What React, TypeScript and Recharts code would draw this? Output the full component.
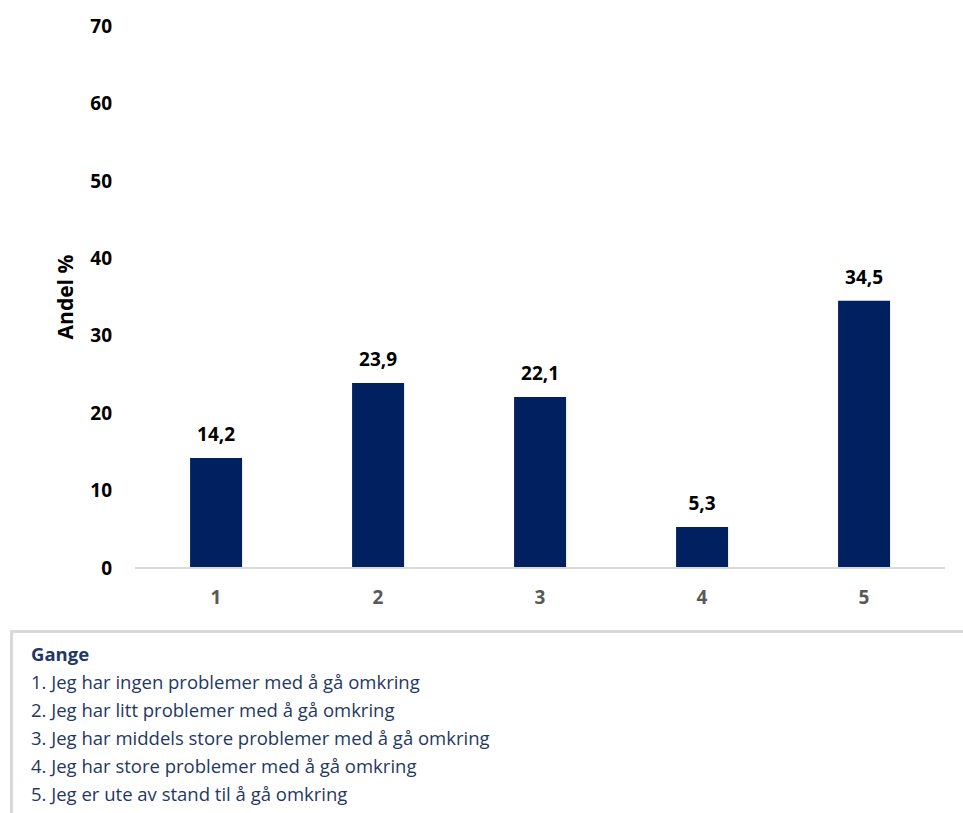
import { BarChart, Bar, XAxis, YAxis, CartesianGrid, LabelList } from "recharts";

// Andel % per svaralternativ (Gange)
const categories = ["1", "2", "3", "4", "5"];
const shares = [14.2, 23.9, 22.1, 5.3, 34.5];
const yTicks = [0, 10, 20, 30, 40, 50, 60, 70];
const legendTitle = "Gange";
const legendLines = [
    "1. Jeg har ingen problemer med å gå omkring",
    "2. Jeg har litt problemer med å gå omkring",
    "3. Jeg har middels store problemer med å gå omkring",
    "4. Jeg har store problemer med å gå omkring",
    "5. Jeg er ute av stand til å gå omkring",
];

const data = categories.map((c, i) => ({ cat: c, value: shares[i] }));

const font = "'Open Sans', 'Noto Sans', sans-serif";
const fmt = (v: number) => v.toFixed(1).replace(".", ",");

export default function App() {
    return (
        <div style={{ position: "absolute", left: 0, top: 0, width: 963, height: 813, background: "#fff", fontFamily: font }}>
            <BarChart width={963} height={620} data={data} margin={{ top: 26, right: 18, left: 0, bottom: 0 }} barCategoryGap="34%">
                <CartesianGrid vertical={false} horizontal={false} />
                <XAxis
                    dataKey="cat"
                    height={52}
                    tickLine={false}
                    tickSize={0}
                    tickMargin={23}
                    axisLine={{ stroke: "#d9d9d9", strokeWidth: 2 }}
                    tick={{ fill: "#595959", fontSize: 19, fontWeight: 700, fontFamily: font }}
                />
                <YAxis
                    width={135}
                    domain={[0, 70]}
                    ticks={yTicks}
                    interval={0}
                    axisLine={false}
                    tickLine={false}
                    tickSize={0}
                    tickMargin={23}
                    tick={{ fill: "#000", fontSize: 19, fontWeight: 700, fontFamily: font }}
                    label={{
                        content: ({ viewBox }: any) => {
                            const x = 65;
                            const y = viewBox.y + viewBox.height / 2;
                            return (
                                <text x={x} y={y} transform={`rotate(-90 ${x} ${y})`} textAnchor="middle" dominantBaseline="central" fill="#000" fontSize={21} fontWeight={700} fontFamily={font}>
                                    Andel %
                                </text>
                            );
                        },
                    }}
                />
                <Bar dataKey="value" fill="#002060" isAnimationActive={false}>
                    <LabelList dataKey="value" position="top" offset={17} formatter={(v: any) => fmt(Number(v))} style={{ fill: "#000", fontSize: 19, fontWeight: 700, fontFamily: font }} />
                </Bar>
            </BarChart>
            <div style={{ position: "absolute", left: 10, top: 630, width: 953, height: 183, borderTop: "3px solid #d9d9d9", borderLeft: "3px solid #d9d9d9", boxSizing: "border-box", paddingLeft: 18, paddingTop: 7, color: "#1f3864", fontSize: 18.5, lineHeight: "28px" }}>
                <div style={{ fontWeight: 700 }}>{legendTitle}</div>
                {legendLines.map((l) => (
                    <div key={l}>{l}</div>
                ))}
            </div>
        </div>
    );
}
